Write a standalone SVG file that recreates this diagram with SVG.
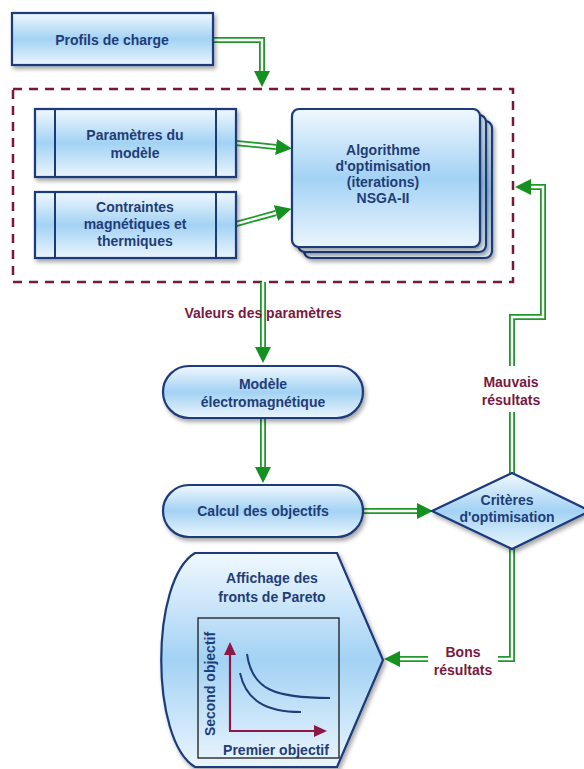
<svg xmlns="http://www.w3.org/2000/svg" width="584" height="769" viewBox="0 0 584 769">
<defs>
  <linearGradient id="bg" x1="0" y1="0" x2="0" y2="1">
    <stop offset="0" stop-color="#f0f8fe"/>
    <stop offset="0.5" stop-color="#a3d2f4"/>
    <stop offset="1" stop-color="#eaf5fd"/>
  </linearGradient>
  <filter id="sh" x="-10%" y="-10%" width="130%" height="130%">
    <feDropShadow dx="2" dy="3" stdDeviation="2" flood-color="#000" flood-opacity="0.35"/>
  </filter>
  <marker id="ga" markerUnits="userSpaceOnUse" markerWidth="17" markerHeight="16" refX="0" refY="8" orient="auto">
    <path d="M0,0 L16,8 L0,16 z" fill="#14911e"/>
  </marker>
  <marker id="ma" markerUnits="userSpaceOnUse" markerWidth="14" markerHeight="12" refX="0" refY="6" orient="auto">
    <path d="M0,0 L13,6 L0,12 z" fill="#8a1848"/>
  </marker>
  <style>
    .node { fill: url(#bg); stroke: #1b3a7a; stroke-width: 2.2; filter: url(#sh); }
    .t { font-family: "Liberation Sans", Arial, sans-serif; font-weight: bold; font-size: 14px; fill: #1f3d78; text-anchor: middle; }
    .lbl { font-family: "Liberation Sans", Arial, sans-serif; font-weight: bold; font-size: 14px; fill: #7a1840; text-anchor: middle; }
    .out { fill: none; stroke: #1f9a2a; stroke-width: 6; }
    .in { fill: none; stroke: #ffffff; stroke-width: 2.4; }
    .ax { fill: none; stroke: #8a1848; stroke-width: 2.2; }
    .cv { fill: none; stroke: #1f3d78; stroke-width: 2; }
  </style>
</defs>
<rect width="584" height="769" fill="#ffffff"/>

<!-- dashed container -->
<rect id="container" x="13" y="89" width="500" height="193" fill="none" stroke="#7a1838" stroke-width="2.5" stroke-dasharray="9 7"/>

<g id="connectors">
  <!-- Profils -> container -->
  <path class="out" d="M213,40 H262 V71" marker-end="url(#ga)"/>
  <path class="in" d="M213,40 H262 V71"/>
  <!-- Parametres -> Algo -->
  <path class="out" d="M236,143 L276,147" marker-end="url(#ga)"/>
  <path class="in" d="M236,143 L276,147"/>
  <!-- Contraintes -> Algo -->
  <path class="out" d="M236,224 L276,213" marker-end="url(#ga)"/>
  <path class="in" d="M236,224 L276,213"/>
  <!-- container -> Modele -->
  <path class="out" d="M263,282 V347" marker-end="url(#ga)"/>
  <path class="in" d="M263,282 V347"/>
  <!-- Modele -> Calcul -->
  <path class="out" d="M263,419 V467" marker-end="url(#ga)"/>
  <path class="in" d="M263,419 V467"/>
  <!-- Calcul -> Criteres -->
  <path class="out" d="M363,511 H417" marker-end="url(#ga)"/>
  <path class="in" d="M363,511 H417"/>
  <!-- Criteres -> Algo (Mauvais resultats) -->
  <path class="out" d="M512,473 V317 H543 V187 H531" marker-end="url(#ga)"/>
  <path class="in" d="M512,473 V317 H543 V187 H531"/>
  <!-- Criteres -> Affichage (Bons resultats) -->
  <path class="out" d="M512,549 V659 H400" marker-end="url(#ga)"/>
  <path class="in" d="M512,549 V659 H400"/>
  <rect x="497" y="366" width="30" height="46" fill="#ffffff"/>
  <rect x="428" y="640" width="70" height="40" fill="#ffffff"/>
</g>

<g id="profils">
  <rect class="node" x="12" y="13" width="201" height="52"/>
  <text class="t" x="112" y="45">Profils de charge</text>
</g>

<g id="parametres">
  <rect class="node" x="35" y="109" width="201" height="68"/>
  <line x1="55" y1="109" x2="55" y2="177" stroke="#1b3a7a" stroke-width="2"/>
  <line x1="216" y1="109" x2="216" y2="177" stroke="#1b3a7a" stroke-width="2"/>
  <text class="t" x="135" y="140">Paramètres du</text>
  <text class="t" x="135" y="158">modèle</text>
</g>

<g id="contraintes">
  <rect class="node" x="35" y="192" width="201" height="66"/>
  <line x1="55" y1="192" x2="55" y2="258" stroke="#1b3a7a" stroke-width="2"/>
  <line x1="216" y1="192" x2="216" y2="258" stroke="#1b3a7a" stroke-width="2"/>
  <text class="t" x="135" y="212">Contraintes</text>
  <text class="t" x="135" y="229">magnétiques et</text>
  <text class="t" x="135" y="246">thermiques</text>
</g>

<g id="algorithme">
  <rect class="node" x="304" y="121" width="188" height="137" rx="7"/>
  <rect class="node" x="298" y="115" width="188" height="137" rx="7"/>
  <rect class="node" x="292" y="109" width="188" height="138" rx="7"/>
  <text class="t" x="383" y="155">Algorithme</text>
  <text class="t" x="383" y="171">d'optimisation</text>
  <text class="t" x="383" y="187">(iterations)</text>
  <text class="t" x="383" y="203">NSGA-II</text>
</g>

<g id="modele">
  <rect class="node" x="163" y="366" width="200" height="52" rx="26"/>
  <text class="t" x="263" y="389">Modèle</text>
  <text class="t" x="263" y="407">électromagnétique</text>
</g>

<g id="calcul">
  <rect class="node" x="163" y="485" width="200" height="52" rx="26"/>
  <text class="t" x="263" y="516">Calcul des objectifs</text>
</g>

<g id="criteres">
  <polygon class="node" points="432,511 512,473 590,511 512,549"/>
  <text class="t" x="507" y="505">Critères</text>
  <text class="t" x="507" y="522">d'optimisation</text>
</g>

<g id="affichage">
  <path class="node" d="M195,553 L337,553 L383,660 L337,767 L195,767 C150,740 150,580 195,553 Z"/>
  <text class="t" x="272" y="583">Affichage des</text>
  <text class="t" x="272" y="602">fronts de Pareto</text>
  <rect x="198" y="618" width="141" height="140" fill="none" stroke="#1a1a1a" stroke-width="1.3"/>
  <path class="ax" d="M230,731 V655" marker-end="url(#ma)"/>
  <path class="ax" d="M229,731 H314" marker-end="url(#ma)"/>
  <path class="cv" d="M247,654 C252,690 275,698 330,698"/>
  <path class="cv" d="M240,673 C246,700 265,712 301,712"/>
  <text class="t" transform="translate(215,684) rotate(-90)">Second objectif</text>
  <text class="t" x="276" y="755">Premier objectif</text>
</g>

<g id="labels">
  <text class="lbl" x="263" y="318">Valeurs des paramètres</text>
  <text class="lbl" x="511" y="387">Mauvais</text>
  <text class="lbl" x="511" y="405">résultats</text>
  <text class="lbl" x="463" y="657">Bons</text>
  <text class="lbl" x="463" y="675">résultats</text>
</g>
</svg>
